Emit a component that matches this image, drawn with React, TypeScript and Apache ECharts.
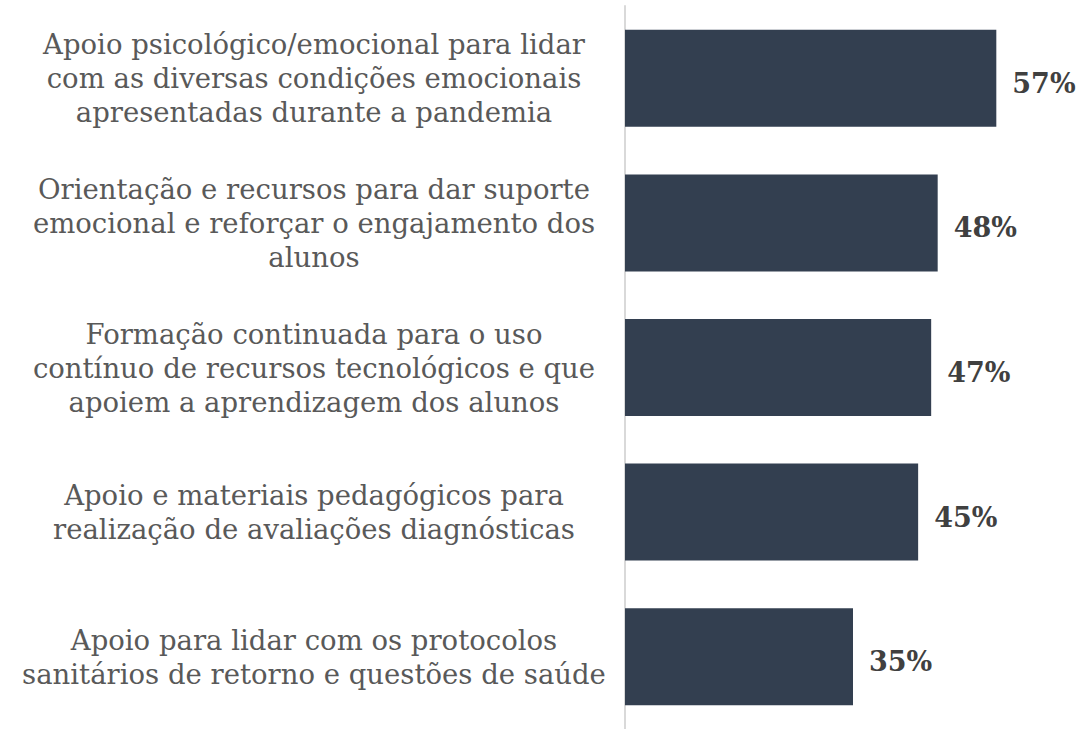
import React, { useEffect, useRef } from "react";
import * as echarts from "echarts";

const categories: string[] = [
  "Apoio psicológico/emocional para lidar\ncom as diversas condições emocionais\napresentadas durante a pandemia",
  "Orientação e recursos para dar suporte\nemocional e reforçar o engajamento dos\nalunos",
  "Formação continuada para o uso\ncontínuo de recursos tecnológicos e que\napoiem a aprendizagem dos alunos",
  "Apoio e materiais pedagógicos para\nrealização de avaliações diagnósticas",
  "Apoio para lidar com os protocolos\nsanitários de retorno e questões de saúde",
];
const values: number[] = [57, 48, 47, 45, 35];

export default function App() {
  const ref = useRef<HTMLDivElement>(null);
  useEffect(() => {
    if (!ref.current) return;
    const chart = echarts.init(ref.current, undefined, { renderer: "svg" });
    chart.setOption({
      animation: false,
      grid: { left: 625, right: 1, top: 6, height: 728, containLabel: false },
      xAxis: {
        type: "value",
        min: 0,
        max: 70,
        show: false,
      },
      yAxis: {
        type: "category",
        inverse: true,
        data: categories,
        axisLine: { show: true, lineStyle: { color: "#d9d9d9", width: 2 } },
        axisTick: { show: false },
        axisLabel: {
          align: "center",
          margin: 311,
          fontFamily: "DejaVu Serif",
          fontSize: 27.5,
          lineHeight: 34,
          color: "#595959",
          padding: [6, 0, 0, 0],
        },
      },
      series: [
        {
          type: "bar",
          data: values,
          barWidth: 97,
          itemStyle: { color: "#333f50" },
          label: {
            show: true,
            position: "right",
            distance: 16,
            formatter: "{c}%",
            fontFamily: "DejaVu Serif",
            fontWeight: "bold",
            fontSize: 27,
            color: "#404040",
            offset: [0, 5],
          },
        },
      ],
    });
    return () => chart.dispose();
  }, []);
  return (
    <div
      ref={ref}
      style={{ position: "absolute", left: 0, top: 0, width: 1082, height: 729, background: "#fff" }}
    />
  );
}
